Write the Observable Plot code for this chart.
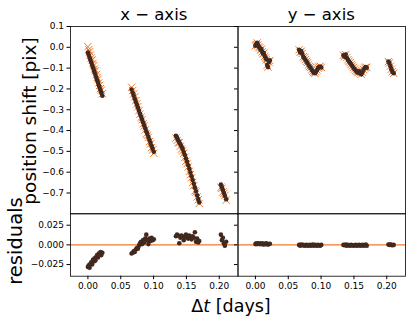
<!DOCTYPE html>
<html><head><meta charset="utf-8">
<script src="https://cdn.jsdelivr.net/npm/d3@7"></script>
<script src="https://cdn.jsdelivr.net/npm/@observablehq/plot@0.6"></script>
<style>
body{margin:0;background:#fff;}
#wrap{position:relative;width:415px;height:325px;background:#fff;font-family:"DejaVu Sans",sans-serif;}
#wrap svg{position:absolute;left:0;top:0;}
</style></head><body><div id="wrap"></div>
<script>
// ---- data ----
const panels = ["x − axis", "y − axis"];
const time = [
  0.0000,0.0013,0.0026,0.0038,0.0051,0.0064,0.0077,0.0090,0.0102,0.0115,0.0128,0.0141,0.0154,0.0166,0.0179,0.0192,0.0205,0.0220,
  0.0665,0.0681,0.0697,0.0713,0.0729,0.0745,0.0761,0.0777,0.0793,0.0809,0.0825,0.0841,0.0857,0.0873,0.0889,0.0905,0.0921,0.0937,0.0953,0.0969,0.0985,0.1003,
  0.1340,0.1357,0.1374,0.1391,0.1408,0.1425,0.1442,0.1459,0.1476,0.1493,0.1510,0.1527,0.1544,0.1561,0.1578,0.1595,0.1612,0.1629,0.1646,0.1663,0.1680,0.1695,
  0.2025,0.2040,0.2055,0.2070,0.2085,0.2105
];
const xShift = [
  -0.025,-0.037,-0.050,-0.061,-0.073,-0.085,-0.097,-0.109,-0.121,-0.133,-0.146,-0.158,-0.170,-0.182,-0.195,-0.207,-0.219,-0.233,
  -0.203,-0.218,-0.232,-0.247,-0.262,-0.276,-0.290,-0.305,-0.319,-0.333,-0.347,-0.361,-0.375,-0.389,-0.403,-0.417,-0.431,-0.445,-0.459,-0.473,-0.487,-0.502,
  -0.425,-0.435,-0.446,-0.456,-0.466,-0.477,-0.488,-0.503,-0.518,-0.534,-0.550,-0.567,-0.584,-0.602,-0.620,-0.638,-0.656,-0.674,-0.692,-0.711,-0.729,-0.745,
  -0.660,-0.672,-0.686,-0.700,-0.713,-0.730
];
const xResid = [
  -0.028,-0.026,-0.029,-0.024,-0.022,-0.025,-0.019,-0.021,-0.017,-0.020,-0.015,-0.013,-0.016,-0.011,-0.012,-0.009,-0.013,-0.010,
  -0.011,-0.010,-0.008,-0.009,-0.006,-0.004,-0.005,-0.001,0.002,0.004,0.001,0.006,0.003,0.008,0.013,0.006,0.001,0.008,0.005,0.009,0.006,0.007,
  0.011,0.013,0.012,0.002,0.009,0.012,0.010,0.006,0.011,0.013,0.009,0.008,0.012,0.010,0.007,0.011,0.009,0.016,0.004,0.008,0.003,0.005,
  0.013,0.006,0.009,0.002,-0.001,0.004
];
const yShift = [
  0.008,0.015,0.022,0.012,0.004,-0.002,-0.012,-0.008,-0.020,-0.030,-0.027,-0.042,-0.050,-0.058,-0.085,-0.095,-0.070,-0.062,
  -0.012,-0.025,-0.018,-0.030,-0.045,-0.052,-0.060,-0.068,-0.075,-0.085,-0.092,-0.098,-0.108,-0.115,-0.122,-0.125,-0.118,-0.110,-0.100,-0.095,-0.092,-0.097,
  -0.038,-0.045,-0.035,-0.050,-0.060,-0.068,-0.075,-0.082,-0.090,-0.098,-0.105,-0.112,-0.118,-0.122,-0.115,-0.125,-0.130,-0.120,-0.108,-0.100,-0.095,-0.098,
  -0.068,-0.075,-0.090,-0.105,-0.118,-0.125
];
const yResid = [
  0.001,0.002,0.001,0.0015,0.002,0.001,0.0015,0.001,0.002,0.001,0.0005,0.0015,0.001,0.002,0.001,0.0005,0.001,0.0015,
  0.000,-0.001,0.0005,-0.0005,0.000,-0.001,-0.0005,0.000,-0.001,-0.0005,0.000,-0.001,-0.0005,0.0005,-0.001,0.000,-0.0005,-0.001,0.000,-0.0005,-0.001,0.000,
  0.000,-0.0005,0.0005,-0.001,0.000,-0.0005,-0.001,0.000,-0.0005,-0.001,-0.0005,0.000,-0.001,-0.0005,0.000,-0.001,-0.0005,0.000,-0.001,-0.0005,0.0005,-0.001,
  0.0005,0.000,0.0005,0.000,-0.0005,0.000
];
const shiftTicks = [0.1,0.0,-0.1,-0.2,-0.3,-0.4,-0.5,-0.6,-0.7];
const residTicks = [0.025,0.000,-0.025];
const timeTicks = [0.00,0.05,0.10,0.15,0.20];

// ---- tables ----
const xRows = time.map((t,i)=>({t, pos:xShift[i], model:xShift[i]-xResid[i], res:xResid[i]}));
const yRows = time.map((t,i)=>({t, pos:yShift[i], model:yShift[i]-yResid[i], res:yResid[i]}));

const W=415, H=325;
const L1=70, L2=237.5, R2=405, T1=26, B1=213.3, B2=275.7;
const tDomain=[-0.0265,0.2285];
const orange="#f5792a", brown="#43281e";
const base = {width:W, height:H, style:{background:"transparent",overflow:"visible",fontFamily:"DejaVu Sans, sans-serif",fontSize:"9px",color:"#000"}};

function topPanel(rows, left, right, labels){
  return Plot.plot({...base,
    marginLeft:left, marginRight:W-right, marginTop:T1, marginBottom:H-B1,
    x:{domain:tDomain, axis:null},
    y:{domain:[-0.8,0.1], axis:null},
    marks:[
      Plot.axisY({ticks:shiftTicks, tickSize:3.5, tickPadding:3, label:null,
        tickFormat: labels ? d3.format(".1f") : ()=>"" , fontSize:9}),
      Plot.dot(rows,{x:"t",y:"model",symbol:"times",r:3.4,stroke:orange,strokeWidth:1}),
      Plot.dot(rows,{x:"t",y:"pos",r:2.3,fill:brown}),
      Plot.frame({stroke:"#000",strokeWidth:0.8})
    ]});
}
function botPanel(rows, left, right, labels){
  return Plot.plot({...base,
    marginLeft:left, marginRight:W-right, marginTop:B1, marginBottom:H-B2,
    x:{domain:tDomain},
    y:{domain:[-0.0398,0.0395]},
    marks:[
      Plot.axisY({ticks:residTicks, tickSize:3.5, tickPadding:3, label:null,
        tickFormat: labels ? d3.format(".3f") : ()=>"", fontSize:9}),
      Plot.axisX({ticks:timeTicks, tickSize:3.5, tickPadding:3, label:null, tickFormat:d3.format(".2f"), fontSize:9}),
      Plot.ruleY([0],{stroke:orange,strokeWidth:1.3}),
      Plot.dot(rows,{x:"t",y:"res",r:2.3,fill:brown}),
      Plot.frame({stroke:"#000",strokeWidth:0.8})
    ]});
}
const wrap=document.getElementById("wrap");
wrap.append(topPanel(xRows,L1,L2,true));
wrap.append(topPanel(yRows,L2,R2,false));
wrap.append(botPanel(xRows,L1,L2,true));
wrap.append(botPanel(yRows,L2,R2,false));

// titles and labels
const svg=d3.select(wrap).append("svg").attr("width",W).attr("height",H)
  .style("font-family","DejaVu Sans, sans-serif").style("overflow","visible");
svg.append("text").attr("x",(L1+L2)/2).attr("y",20).attr("text-anchor","middle").attr("font-size",16.5).text(panels[0]);
svg.append("text").attr("x",(L2+R2)/2).attr("y",20).attr("text-anchor","middle").attr("font-size",16.5).text(panels[1]);
svg.append("text").attr("transform",`translate(36,121) rotate(-90)`).attr("text-anchor","middle").attr("font-size",18.5).text("position shift [pix]");
svg.append("text").attr("transform",`translate(22,241) rotate(-90)`).attr("text-anchor","middle").attr("font-size",19.5).text("residuals");
const xl=svg.append("text").attr("x",231).attr("y",312).attr("text-anchor","middle").attr("font-size",17.5);
xl.append("tspan").text("Δ");
xl.append("tspan").attr("font-style","italic").text("t");
xl.append("tspan").text(" [days]");
</script></body></html>
